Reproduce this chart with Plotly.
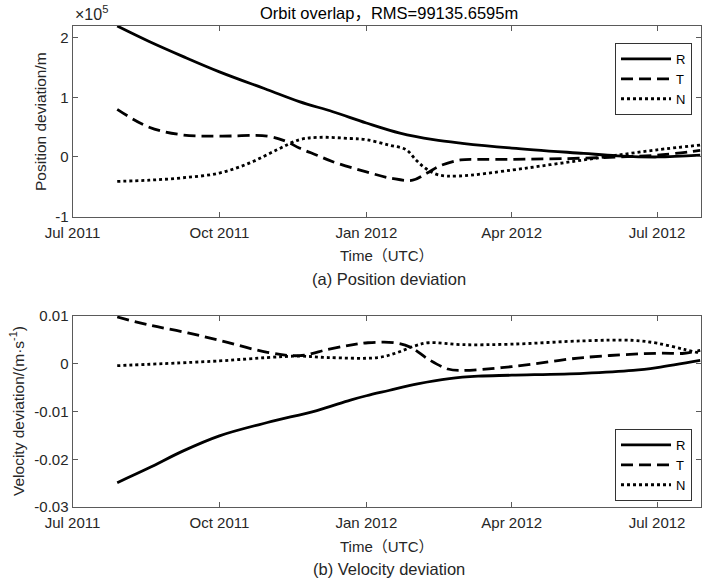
import plotly.graph_objects as go

# ---------------- data ----------------
pos_R_dates = ["2011-07-29", "2011-08-18", "2011-09-08", "2011-10-01", "2011-10-31", "2011-11-20",
               "2011-12-11", "2012-01-01", "2012-01-22", "2012-02-12", "2012-03-01", "2012-04-01",
               "2012-05-16", "2012-06-06", "2012-07-01", "2012-07-28"]
pos_R = [220000, 194000, 169000, 143000, 113000, 93000, 76000, 57000, 40000, 29000, 23000, 15000,
         6000, 2000, 0, 3000]

pos_T_dates = ["2011-07-29", "2011-08-18", "2011-09-08", "2011-10-01", "2011-10-31", "2011-11-12",
               "2011-11-20", "2011-12-01", "2011-12-11", "2012-01-01", "2012-01-17", "2012-01-30",
               "2012-02-08", "2012-02-16", "2012-02-29", "2012-03-11", "2012-04-01", "2012-05-16",
               "2012-06-06", "2012-07-01", "2012-07-28"]
pos_T = [80000, 50000, 37000, 35000, 35000, 26000, 15000, 3000, -8000, -25000, -36000, -39000,
         -27000, -15000, -5000, -4000, -4000, -2000, 0, 3000, 11000]

pos_N_dates = ["2011-07-29", "2011-08-18", "2011-09-08", "2011-10-01", "2011-10-20", "2011-11-06",
               "2011-11-20", "2011-12-02", "2011-12-22", "2012-01-01", "2012-01-15", "2012-01-26",
               "2012-02-01", "2012-02-07", "2012-02-15", "2012-02-28", "2012-04-01", "2012-04-25",
               "2012-05-16", "2012-06-06", "2012-07-01", "2012-07-28"]
pos_N = [-41000, -39000, -35000, -27000, -10000, 12000, 29000, 33000, 31000, 29000, 20000, 12000,
         -5000, -19000, -30000, -32000, -22000, -13000, -5000, 3000, 12000, 20000]

vel_R_dates = ["2011-07-29", "2011-08-18", "2011-09-08", "2011-10-01", "2011-10-31", "2011-12-01",
               "2011-12-22", "2012-01-01", "2012-01-15", "2012-02-02", "2012-02-22", "2012-03-11",
               "2012-04-01", "2012-05-16", "2012-06-16", "2012-07-01", "2012-07-28"]
vel_R = [-0.0249, -0.0218, -0.0183, -0.0151, -0.0123, -0.0098, -0.0076, -0.0067, -0.0056, -0.0042,
         -0.0031, -0.0026, -0.0024, -0.0020, -0.0014, -0.0008, 0.0007]

vel_T_dates = ["2011-07-29", "2011-08-18", "2011-09-08", "2011-10-01", "2011-10-31", "2011-11-20",
               "2011-12-08", "2011-12-22", "2012-01-02", "2012-01-19", "2012-01-29", "2012-02-09",
               "2012-02-21", "2012-03-01", "2012-04-01", "2012-05-16", "2012-07-01", "2012-07-18",
               "2012-07-28"]
vel_T = [0.0098, 0.0081, 0.0067, 0.0049, 0.0024, 0.0017, 0.0030, 0.0039, 0.0044, 0.0044, 0.0034,
         0.0009, -0.0011, -0.0014, -0.0006, 0.0013, 0.0022, 0.0022, 0.0028]

vel_N_dates = ["2011-07-29", "2011-10-01", "2011-10-31", "2011-11-20", "2011-12-08", "2012-01-08",
               "2012-01-20", "2012-01-31", "2012-02-09", "2012-03-01", "2012-04-01", "2012-05-16",
               "2012-06-16", "2012-07-01", "2012-07-18", "2012-07-28"]
vel_N = [-0.0004, 0.0006, 0.0013, 0.0016, 0.0013, 0.0013, 0.0023, 0.0037, 0.0044, 0.0040, 0.0041,
         0.0048, 0.0049, 0.0043, 0.0030, 0.0022]

series_names = ["R", "T", "N"]
x_tick_vals = ["2011-07-01", "2011-10-01", "2012-01-01", "2012-04-01", "2012-07-01"]
x_tick_text = ["Jul 2011", "Oct 2011", "Jan 2012", "Apr 2012", "Jul 2012"]
pos_tick_vals = [-100000, 0, 100000, 200000]
pos_tick_text = ["-1", "0", "1", "2"]
vel_tick_vals = [-0.03, -0.02, -0.01, 0, 0.01]
vel_tick_text = ["-0.03", "-0.02", "-0.01", "0", "0.01"]

title_text = "Orbit overlap，RMS=99135.6595m"

# ---------------- figure ----------------
W, H = 702, 582
FONT = "Liberation Sans, Arial, Helvetica, Noto Sans CJK SC, sans-serif"
TXT = "#262626"
AX = "#5a5a5a"
dashes = ["solid", "12px,6px", "3px,3px"]

fig = go.Figure()

pos_sets = [(pos_R_dates, pos_R), (pos_T_dates, pos_T), (pos_N_dates, pos_N)]
vel_sets = [(vel_R_dates, vel_R), (vel_T_dates, vel_T), (vel_N_dates, vel_N)]

for name, (d, v), dash in zip(series_names, pos_sets, dashes):
    fig.add_trace(go.Scatter(x=d, y=v, mode="lines", name=name, xaxis="x", yaxis="y",
                             line=dict(color="black", width=2.8, dash=dash, shape="spline", smoothing=1),
                             legend="legend"))
for name, (d, v), dash in zip(series_names, vel_sets, dashes):
    fig.add_trace(go.Scatter(x=d, y=v, mode="lines", name=name, xaxis="x2", yaxis="y2",
                             line=dict(color="black", width=2.8, dash=dash, shape="spline", smoothing=1),
                             legend="legend2"))

def py(y):  # pixel -> paper y
    return 1 - y / H

def px(x):
    return x / W

x_dom = [px(72.5), px(701)]
xrange = ["2011-07-01", "2012-07-28 12:00"]

common_x = dict(range=xrange, tickvals=x_tick_vals, ticktext=x_tick_text, ticks="inside",
                ticklen=5, tickcolor=AX, showline=True, linecolor=AX, linewidth=1,
                mirror="allticks", showgrid=False, zeroline=False, domain=x_dom, automargin=False,
                ticklabelstandoff=2,
                tickfont=dict(family=FONT, size=15, color=TXT))
common_y = dict(ticks="inside", ticklen=5, tickcolor=AX, showline=True, linecolor=AX, linewidth=1,
                mirror="allticks", showgrid=False, zeroline=False, automargin=False,
                tickfont=dict(family=FONT, size=15, color=TXT))

legend_common = dict(bgcolor="white", bordercolor="#333", borderwidth=1,
                     font=dict(family=FONT, size=13, color="black"),
                     itemwidth=50, tracegroupgap=0, xanchor="left", yanchor="top",
                     itemclick=False, itemdoubleclick=False)

fig.update_layout(
    template="none",
    width=W, height=H,
    margin=dict(l=0, r=0, t=0, b=0, pad=0, autoexpand=False),
    paper_bgcolor="white", plot_bgcolor="white",
    showlegend=True,
    xaxis=dict(**common_x, anchor="y"),
    yaxis=dict(**common_y, domain=[py(216.5), py(26)], range=[-100000, 220000],
               tickvals=pos_tick_vals, ticktext=pos_tick_text, anchor="x"),
    xaxis2=dict(**common_x, anchor="y2"),
    yaxis2=dict(**common_y, domain=[py(507), py(316)], range=[-0.03, 0.01],
                tickvals=vel_tick_vals, ticktext=vel_tick_text, anchor="x2"),
    legend=dict(**legend_common, x=px(615), y=py(43)),
    legend2=dict(**legend_common, x=px(615), y=py(429)),
)

def label(text, x, y, size=15, color=TXT, xanchor="center", angle=0):
    return dict(text=text, x=px(x), y=py(y), xref="paper", yref="paper",
                xanchor=xanchor, yanchor="middle", textangle=angle, showarrow=False,
                font=dict(family=FONT, size=size, color=color))

ann = [
    label(title_text, 389, 13, size=16.5, color="black"),
    label("×10<sup>5</sup>", 73, 13, size=16, xanchor="left"),
    label("Position deviation/m", 40, 122, size=15.5, angle=-90),
    label("Velocity deviation/(m·s<sup>-1</sup>)", 17, 411, size=15.5, angle=-90),
    label("Time（UTC）", 387, 255),
    label("(a) Position deviation", 389, 279, size=16.5),
    label("Time（UTC）", 387, 546),
    label("(b) Velocity deviation", 389, 569, size=16.5),
]
fig.update_layout(annotations=ann)

fig.write_html("out.html")
